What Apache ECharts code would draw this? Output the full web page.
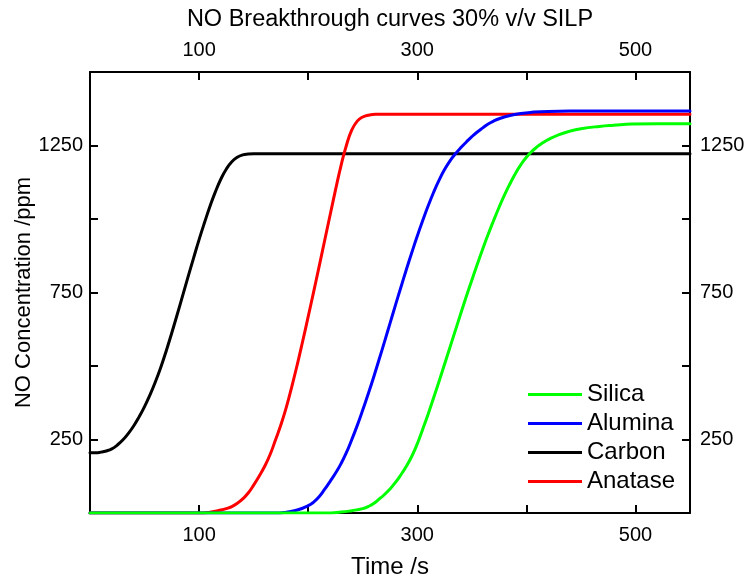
<!DOCTYPE html>
<html>
<head>
<meta charset="utf-8">
<script src="https://cdn.jsdelivr.net/npm/echarts@6/dist/echarts.min.js"></script>
<style>
  html, body { margin: 0; padding: 0; background: #fff; }
  #chart { width: 744px; height: 577px; }
</style>
</head>
<body>
<div id="chart"></div>
<script>
// NO breakthrough curves, time (s) vs NO concentration (ppm)
const carbonTime = [0, 5, 10, 15, 20, 25, 30, 35, 40, 45, 50, 55, 60, 65, 70, 75, 80, 85, 90, 95, 100, 105, 110, 115, 120, 125, 130, 135, 140, 145, 150, 550];
const carbonConc = [205, 205, 207, 211, 218, 231, 248, 270, 296, 327, 362, 402, 447, 497, 553, 613, 676, 740, 805, 868, 930, 988, 1043, 1093, 1136, 1170, 1195, 1210, 1218, 1221, 1222, 1222];

const anataseTime = [0, 100, 110, 120, 125, 130, 135, 140, 145, 150, 155, 160, 165, 170, 175, 180, 185, 190, 195, 200, 205, 210, 215, 220, 225, 230, 235, 240, 245, 250, 255, 262, 550];
const anataseConc = [0, 0, 3, 10, 15, 22, 33, 48, 68, 95, 125, 158, 198, 248, 300, 360, 430, 505, 585, 668, 752, 838, 925, 1012, 1098, 1180, 1250, 1303, 1333, 1347, 1353, 1356, 1356];

const aluminaTime = [0, 170, 180, 190, 200, 205, 210, 215, 220, 225, 230, 235, 240, 245, 250, 255, 260, 265, 270, 275, 280, 285, 290, 295, 300, 305, 310, 315, 320, 325, 330, 335, 340, 345, 350, 355, 360, 365, 370, 375, 385, 395, 405, 420, 440, 550];
const aluminaConc = [0, 0, 3, 10, 25, 37, 55, 80, 107, 135, 167, 205, 250, 298, 350, 405, 462, 522, 583, 645, 707, 768, 828, 886, 942, 995, 1045, 1091, 1132, 1168, 1198, 1222, 1243, 1262, 1280, 1296, 1310, 1323, 1333, 1341, 1352, 1359, 1363, 1366, 1367, 1367];

const silicaTime = [0, 215, 230, 240, 250, 255, 260, 265, 270, 275, 280, 285, 290, 295, 300, 305, 310, 315, 320, 325, 330, 335, 340, 345, 350, 355, 360, 365, 370, 375, 380, 385, 390, 395, 400, 405, 410, 415, 420, 430, 440, 450, 467, 480, 497, 520, 550];
const silicaConc = [0, 0, 3, 8, 15, 22, 32, 47, 63, 82, 104, 130, 159, 193, 235, 285, 337, 392, 448, 506, 564, 622, 680, 737, 792, 846, 898, 948, 995, 1040, 1082, 1120, 1155, 1185, 1210, 1230, 1246, 1259, 1270, 1287, 1299, 1307, 1315, 1319, 1323, 1324, 1324];

const xTickLabels = [100, 300, 500];
const yTickLabels = [250, 750, 1250];

const pair = (xs, ys) => xs.map((x, i) => [x, ys[i]]);

const FONT = '"Liberation Sans", Arial, sans-serif';

const chart = echarts.init(document.getElementById('chart'), null, { renderer: 'canvas' });

const axisLineStyle = { show: true, onZero: false, lineStyle: { color: '#000', width: 2 } };
const tickStyle = { show: true, inside: true, length: 8, lineStyle: { color: '#000', width: 2 } };

function xAxisCfg(pos) {
  return {
    type: 'value', position: pos, min: 0, max: 550, interval: 100,
    axisLine: axisLineStyle, axisTick: tickStyle, splitLine: { show: false },
    axisLabel: {
      color: '#000', fontSize: 20, fontFamily: FONT, margin: 12,
      formatter: v => xTickLabels.includes(v) ? String(v) : ''
    }
  };
}
function yAxisCfg(pos, margin) {
  return {
    type: 'value', position: pos, min: 0, max: 1500, interval: 250,
    axisLine: axisLineStyle, axisTick: tickStyle, splitLine: { show: false },
    axisLabel: {
      color: '#000', fontSize: 20, fontFamily: FONT, margin,
      formatter: v => yTickLabels.includes(v) ? String(v) : ''
    }
  };
}

const bottomX = Object.assign(xAxisCfg('bottom'), {
  name: 'Time /s', nameLocation: 'middle', nameGap: 42, nameMoveOverlap: false,
  nameTextStyle: { color: '#000', fontSize: 24, fontFamily: FONT }
});
const leftY = Object.assign(yAxisCfg('left', 7), {
  name: 'NO Concentration /ppm', nameLocation: 'middle', nameGap: 55, nameMoveOverlap: false,
  nameTextStyle: { color: '#000', fontSize: 22, fontFamily: FONT }
});

function lineSeries(name, color, data) {
  return {
    name, type: 'line', data, smooth: 0.5,
    showSymbol: false, symbol: 'none',
    xAxisIndex: 0, yAxisIndex: 0,
    lineStyle: { color, width: 3, join: 'round', cap: 'round' }, itemStyle: { color },
    emphasis: { disabled: true }, animation: false
  };
}

chart.setOption({
  animation: false,
  backgroundColor: '#fff',
  title: {
    text: 'NO Breakthrough curves 30% v/v SILP',
    left: 390, top: 8, textAlign: 'center', padding: 0,
    textStyle: { color: '#000', fontSize: 23.5, fontWeight: 'normal', fontFamily: FONT }
  },
  grid: { left: 90, right: 54, top: 72, bottom: 64, containLabel: false, outerBoundsMode: 'none' },
  xAxis: [bottomX, xAxisCfg('top')],
  yAxis: [leftY, yAxisCfg('right', 10)],
  legend: {
    orient: 'vertical', left: 528, top: 381, padding: 0,
    itemWidth: 54, itemHeight: 3, itemGap: 2, icon: 'rect',
    textStyle: { color: '#000', fontSize: 24, fontFamily: FONT, lineHeight: 27 },
    data: ['Silica', 'Alumina', 'Carbon', 'Anatase']
  },
  series: [
    lineSeries('Carbon', '#000000', pair(carbonTime, carbonConc)),
    lineSeries('Anatase', '#ff0000', pair(anataseTime, anataseConc)),
    lineSeries('Alumina', '#0000ff', pair(aluminaTime, aluminaConc)),
    lineSeries('Silica', '#00ff00', pair(silicaTime, silicaConc))
  ]
});
</script>
</body>
</html>
